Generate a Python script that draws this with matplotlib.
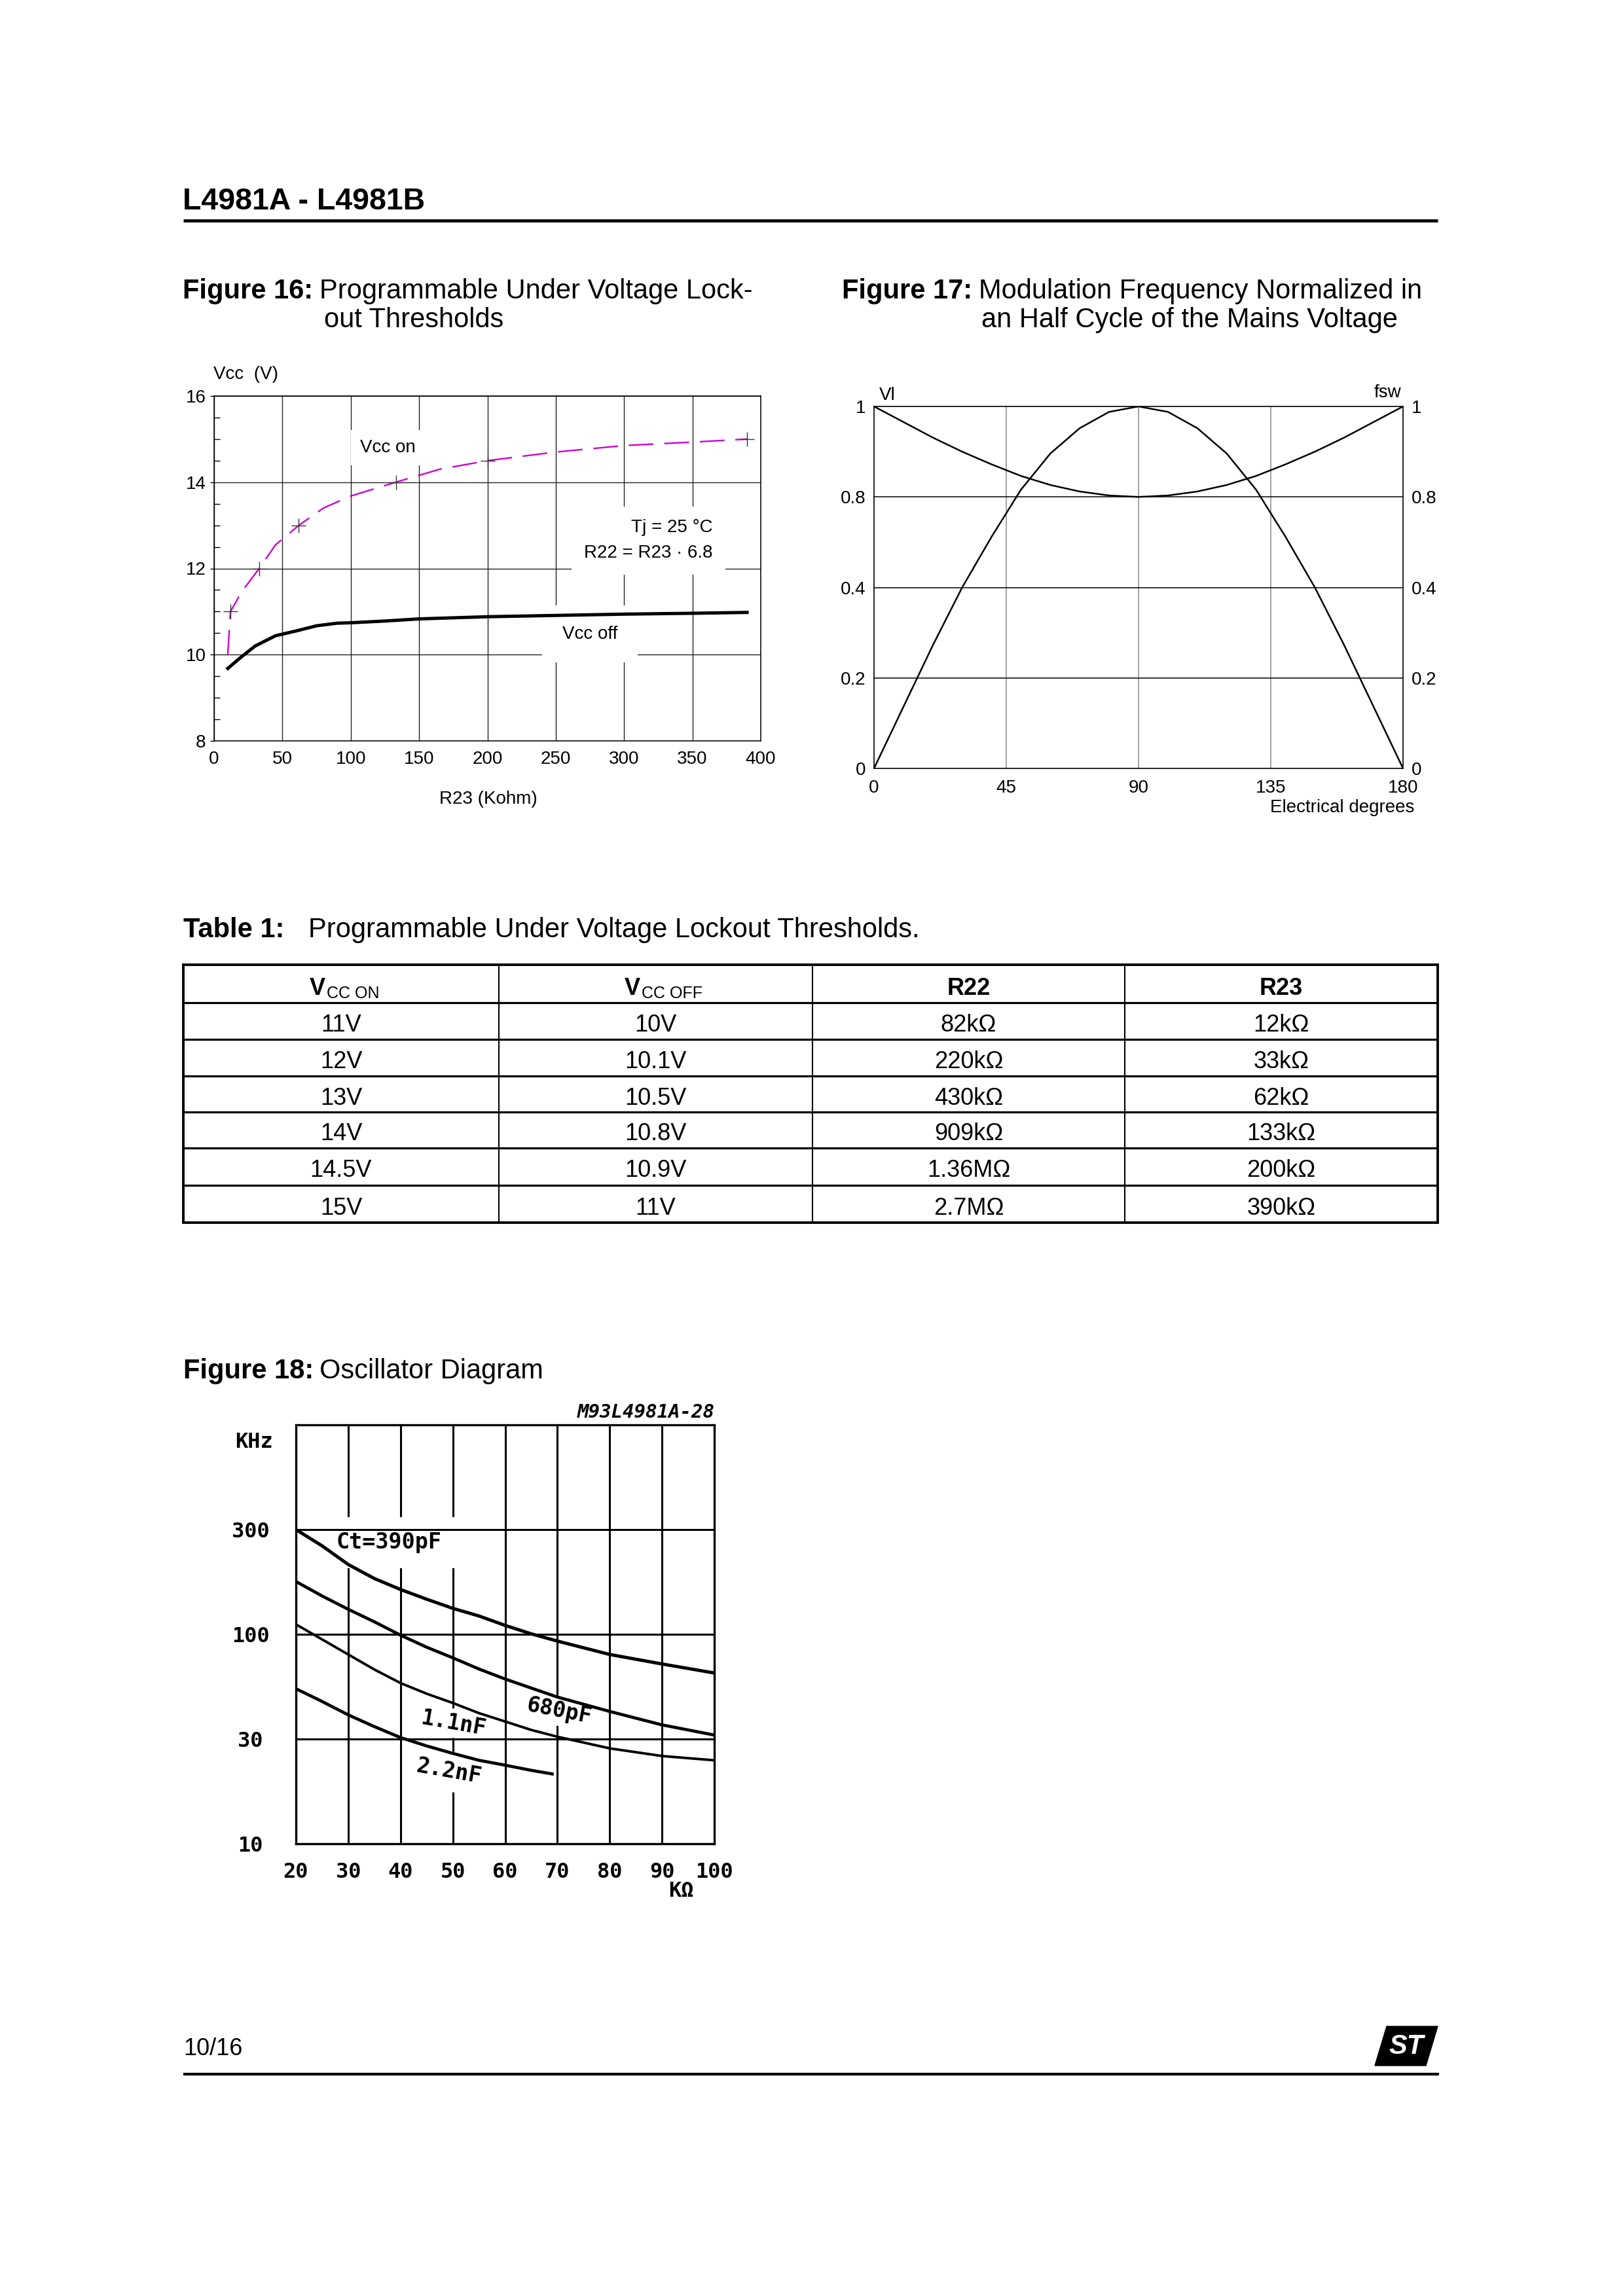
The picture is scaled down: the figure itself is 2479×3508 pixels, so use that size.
import numpy as np
import matplotlib
matplotlib.use("Agg")
import matplotlib.pyplot as plt
from matplotlib.patches import Polygon
from matplotlib.ticker import NullLocator

plt.rcParams['font.family'] = ['Liberation Sans', 'DejaVu Sans']

# ---- Table 1: Programmable Under Voltage Lockout Thresholds ----
tab_vcc_on = ["11V", "12V", "13V", "14V", "14.5V", "15V"]
tab_vcc_off = ["10V", "10.1V", "10.5V", "10.8V", "10.9V", "11V"]
tab_r22 = ["82kΩ", "220kΩ", "430kΩ", "909kΩ", "1.36MΩ", "2.7MΩ"]
tab_r23 = ["12kΩ", "33kΩ", "62kΩ", "133kΩ", "200kΩ", "390kΩ"]

# ---- Figure 16 (R23 in kohm, Vcc in V) ----
r23_marks = [12, 33, 62, 133, 200, 390]
vcc_on_marks = [11, 12, 13, 14, 14.5, 15]
r23_on = [10, 12, 20, 33, 45, 62, 80, 100, 133, 165, 200, 250, 300, 350, 390]
vcc_on = [10.0, 11.0, 11.45, 12.0, 12.55, 13.0, 13.4, 13.68, 14.0, 14.3, 14.5, 14.7, 14.85, 14.93, 15.0]
r23_off = [10, 20, 30, 45, 60, 75, 90, 100, 125, 150, 200, 250, 300, 350, 390]
vcc_off = [9.68, 9.95, 10.2, 10.44, 10.55, 10.67, 10.73, 10.74, 10.78, 10.83, 10.88, 10.91, 10.94, 10.96, 10.98]

# ---- Figure 17 (electrical degrees, normalised, drawn scale 0..1) ----
deg = [0, 10, 20, 30, 40, 50, 60, 70, 80, 90, 100, 110, 120, 130, 140, 150, 160, 170, 180]
vl = [0, 0.17, 0.34, 0.5, 0.64, 0.77, 0.87, 0.94, 0.985, 1.0, 0.985, 0.94, 0.87, 0.77, 0.64, 0.5, 0.34, 0.17, 0]
fsw = [1.0, 0.957, 0.914, 0.875, 0.84, 0.808, 0.783, 0.765, 0.754, 0.75, 0.754, 0.765, 0.783, 0.808, 0.84, 0.875, 0.914, 0.957, 1.0]
f17_xticks = [0, 45, 90, 135, 180]
f17_yticks = [0, 0.25, 0.5, 0.75, 1]
f17_ylabels = ["0", "0.2", "0.4", "0.8", "1"]

# ---- Figure 18 (Rt in kohm, f in kHz) ----
rt = [20, 25, 30, 35, 40, 45, 50, 55, 60, 65, 70, 80, 90, 100]
f_390p = [300, 253, 208, 179.5, 160, 144.5, 131.3, 121.2, 109.8, 100.5, 92.5, 79.3, 71.1, 64.1]
f_680p = [174, 149.5, 130, 114, 99, 86.2, 76.3, 67.1, 59.8, 53.9, 48.6, 41.2, 35.3, 31.4]
f_1n1 = [111, 94.3, 79.3, 66.7, 57.1, 50.5, 45.4, 40.4, 36.7, 33.3, 30.8, 27.2, 25.1, 24.0]
rt_2n2 = [20, 25, 30, 35, 40, 45, 50, 55, 60, 65, 69]
f_2n2 = [53.5, 46.2, 39.6, 34.6, 30.5, 27.9, 25.8, 24.0, 22.8, 21.6, 20.8]
f18_xticks = [20, 30, 40, 50, 60, 70, 80, 90, 100]
f18_yticks = [10, 30, 100, 300]

W, H = 2479, 3508
fig = plt.figure(figsize=(W / 100, H / 100), dpi=100)
page = fig.add_axes([0, 0, 1, 1])
page.set_xlim(0, W)
page.set_ylim(H, 0)
page.axis('off')


def box(x0, y0, x1, y1):
    return [x0 / W, 1 - y1 / H, (x1 - x0) / W, (y1 - y0) / H]


# page header / footer
page.text(279, 308, "L4981A - L4981B", fontsize=33.5, fontweight='bold', va='center')
page.plot([280, 2196], [337, 337], color='black', lw=3.4, solid_capstyle='butt')
page.plot([280, 2198], [3169, 3169], color='black', lw=3.0, solid_capstyle='butt')
page.text(280, 3130, "10/16", fontsize=26, va='center')
page.add_patch(Polygon([(2118, 3096), (2196, 3096), (2178, 3156), (2100, 3156)],
                       closed=True, color='black'))
page.text(2148, 3127, "ST", fontsize=30, fontweight='bold', style='italic',
          color='white', ha='center', va='center')

# captions
page.text(279, 445, "Figure 16:", fontsize=30, fontweight='bold', va='center')
page.text(488, 445, "Programmable Under Voltage Lock-", fontsize=30, va='center')
page.text(495, 489, "out Thresholds", fontsize=30, va='center')
page.text(1286, 445, "Figure 17:", fontsize=30, fontweight='bold', va='center')
page.text(1495, 445, "Modulation Frequency Normalized in", fontsize=30, va='center')
page.text(1499, 489, "an Half Cycle of the Mains Voltage", fontsize=30, va='center')
page.text(280, 1421, "Table 1:", fontsize=30, fontweight='bold', va='center')
page.text(471, 1421, "Programmable Under Voltage Lockout Thresholds.", fontsize=30, va='center')
page.text(280, 2095, "Figure 18:", fontsize=30, fontweight='bold', va='center')
page.text(488, 2095, "Oscillator Diagram", fontsize=30, va='center')

# ---------------- Figure 16 ----------------
ax = fig.add_axes(box(327, 605, 1162, 1132))
ax.set_xlim(0, 400)
ax.set_ylim(8, 16)
ax.set_xticks(range(0, 401, 50))
ax.set_yticks(range(8, 17, 2))
ax.set_yticks(np.arange(8, 16.01, 0.5), minor=True)
ax.set_axisbelow(True)
ax.grid(True, which='major', color='#222222', lw=1.0)
ax.tick_params(axis='x', length=0, pad=11, labelsize=20)
ax.tick_params(axis='y', which='major', direction='out', length=4, width=1, pad=5, labelsize=20)
ax.tick_params(axis='y', which='minor', direction='in', length=6.5, width=1)
for s in ax.spines.values():
    s.set_linewidth(1.1)
ax.plot(r23_on, vcc_on, color='#d000d0', lw=1.7, dashes=(16, 7), zorder=3)
ax.plot(r23_marks, vcc_on_marks, ls='none', marker='+', ms=16, mew=1.0, color='#333333', zorder=4)
ax.plot(r23_off, vcc_off, color='black', lw=3.6, zorder=3)
wb = dict(facecolor='white', edgecolor='none')
ax.text(127, 14.8, "Vcc on", fontsize=20, ha='center', va='center', zorder=2,
        bbox=dict(wb, pad=10))
ax.text(365, 12.65, "Tj = 25 °C\nR22 = R23 · 6.8", fontsize=20, ha='right', va='center',
        multialignment='right', linespacing=1.65, zorder=2, bbox=dict(wb, pad=14))
ax.text(275, 10.48, "Vcc off", fontsize=20, ha='center', va='center', zorder=2,
        bbox=dict(wb, pad=22))
page.text(326, 572, "Vcc  (V)", fontsize=20, va='center')
page.text(746, 1221, "R23 (Kohm)", fontsize=20, ha='center', va='center')

# ---------------- Figure 17 ----------------
ax2 = fig.add_axes(box(1335, 621, 2143, 1174))
ax2.set_xlim(0, 180)
ax2.set_ylim(0, 1)
ax2.set_xticks(f17_xticks)
ax2.set_yticks(f17_yticks, f17_ylabels)
ax2.tick_params(axis='both', length=0, labelsize=20)
ax2.tick_params(axis='y', labelright=True, pad=9)
ax2.tick_params(axis='x', pad=12)
for v in f17_xticks[1:-1]:
    ax2.axvline(v, color='#8a8a8a', lw=1.1, zorder=1)
for v in f17_yticks[1:-1]:
    ax2.axhline(v, color='black', lw=1.1, zorder=1)
for s in ax2.spines.values():
    s.set_linewidth(1.2)
ax2.plot(deg, vl, color='black', lw=1.8, zorder=3)
ax2.plot(deg, fsw, color='black', lw=1.8, zorder=3)
page.text(1343, 604, "Vl", fontsize=20, va='center')
page.text(2140, 600, "fsw", fontsize=20, ha='right', va='center')
page.text(2160, 1234, "Electrical degrees", fontsize=20, ha='right', va='center')

# ---------------- Figure 18 ----------------
k_log = np.log10([10, 30, 100, 300, 1000])
k_pos = [0, 1, 2, 3, 4]


def fwd(v):
    return np.interp(np.log10(np.clip(v, 1e-9, None)), k_log, k_pos)


def inv(u):
    return 10 ** np.interp(u, k_pos, k_log)


mono = dict(fontfamily='DejaVu Sans Mono', fontweight='bold')
ax3 = fig.add_axes(box(452, 2177, 1091, 2817))
ax3.set_yscale('function', functions=(fwd, inv))
ax3.set_xlim(20, 100)
ax3.set_ylim(10, 1000)
ax3.set_xticks(f18_xticks, [str(t) for t in f18_xticks], fontsize=23, **mono)
ax3.set_yticks(f18_yticks, [str(t) for t in f18_yticks], fontsize=23, **mono)
ax3.yaxis.set_minor_locator(NullLocator())
ax3.tick_params(axis='both', length=0)
ax3.tick_params(axis='x', pad=20)
ax3.tick_params(axis='y', pad=50)
for t in ax3.get_yticklabels():
    t.set_horizontalalignment('center')
for v in f18_xticks[1:-1]:
    ax3.axvline(v, color='black', lw=2.2, zorder=1)
for v in f18_yticks[1:]:
    ax3.axhline(v, color='black', lw=2.2, zorder=2.6)
for s in ax3.spines.values():
    s.set_linewidth(2.4)
ax3.plot(rt, f_390p, color='black', lw=3.6, zorder=3)
ax3.plot(rt, f_680p, color='black', lw=3.4, zorder=3)
ax3.plot(rt, f_1n1, color='black', lw=2.8, zorder=3)
ax3.plot(rt_2n2, f_2n2, color='black', lw=3.4, zorder=3)
ax3.text(0.222, 0.719, "Ct=390pF", transform=ax3.transAxes, fontsize=24, ha='center',
         va='center', zorder=2, bbox=dict(wb, pad=16), **mono)
ax3.text(0.629, 0.316, "680pF", transform=ax3.transAxes, fontsize=24, ha='center',
         va='center', rotation=-11, rotation_mode='anchor', zorder=2,
         bbox=dict(wb, pad=4), **mono)
ax3.text(0.377, 0.2875, "1.1nF", transform=ax3.transAxes, fontsize=24, ha='center',
         va='center', rotation=-10, rotation_mode='anchor', zorder=2,
         bbox=dict(wb, pad=4), **mono)
ax3.text(0.365, 0.173, "2.2nF", transform=ax3.transAxes, fontsize=24, ha='center',
         va='center', rotation=-10, rotation_mode='anchor', zorder=2,
         bbox=dict(wb, pad=10), **mono)
page.text(388, 2204, "KHz", fontsize=23, ha='center', va='center', **mono)
page.text(1040, 2889, "KΩ", fontsize=23, ha='center', va='center', **mono)
page.text(1092, 2158, "M93L4981A-28", fontsize=21, ha='right', va='center',
          style='italic', fontfamily='DejaVu Sans Mono', fontweight='bold')

# ---------------- Table 1 ----------------
col_x = [280, 762, 1241, 1718, 2196]
row_y = [1474, 1532, 1588, 1644, 1699, 1754, 1811, 1868]
for y in row_y[1:-1]:
    page.plot([col_x[0], col_x[-1]], [y, y], color='black', lw=2.3, solid_capstyle='butt')
for x in col_x[1:-1]:
    page.plot([x, x], [row_y[0], row_y[-1]], color='black', lw=1.5, solid_capstyle='butt')
page.plot([col_x[0], col_x[-1], col_x[-1], col_x[0], col_x[0]],
          [row_y[0], row_y[0], row_y[-1], row_y[-1], row_y[0]],
          color='black', lw=2.8, solid_joinstyle='miter')

centers = [(col_x[i] + col_x[i + 1]) / 2 for i in range(4)]
head_base = (row_y[0] + row_y[1]) / 2 + 17
# V_CC ON / V_CC OFF headers with small subscript
for cx, sub in [(centers[0], "CC ON"), (centers[1], "CC OFF")]:
    page.text(cx - 36, head_base, "V", fontsize=26, fontweight='bold', ha='center', va='baseline')
    page.text(cx - 22, head_base + 5, sub, fontsize=18, ha='left', va='baseline')
page.text(centers[2], head_base, "R22", fontsize=26, fontweight='bold', ha='center', va='baseline')
page.text(centers[3], head_base, "R23", fontsize=26, fontweight='bold', ha='center', va='baseline')

columns = [tab_vcc_on, tab_vcc_off, tab_r22, tab_r23]
for r in range(6):
    base = (row_y[r + 1] + row_y[r + 2]) / 2 + 16
    for c in range(4):
        page.text(centers[c], base, columns[c][r], fontsize=26, ha='center', va='baseline')

fig.savefig("out.png", dpi=100, facecolor='white')
